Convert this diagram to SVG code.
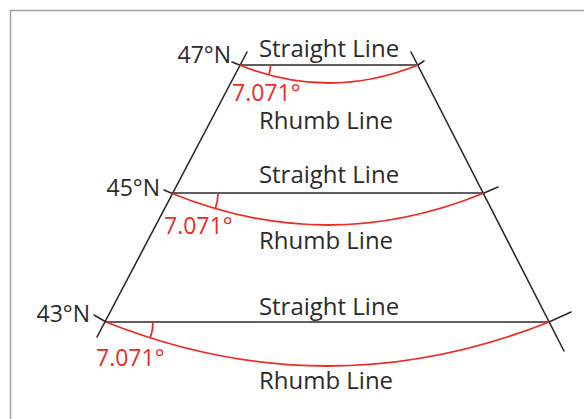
<svg xmlns="http://www.w3.org/2000/svg" width="584" height="419" viewBox="0 0 584 419">
<style>
.k{stroke:#2b2b2b;stroke-width:1.6;fill:none;stroke-linecap:round}
.r{stroke:#ee2b24;stroke-width:1.8;fill:none}
.t{font-family:"Open Sans","Noto Sans",sans-serif;font-size:23px;fill:#2b2b2b}
.rt{font-family:"Open Sans","Noto Sans",sans-serif;font-size:23px;fill:#ee2b24}
.m{text-anchor:middle;font-size:24px}
.e{text-anchor:end}
</style>
<rect width="584" height="419" fill="#fff"/>
<path d="M10.5 419 V10.5 H584" fill="none" stroke="#a0a0a0" stroke-width="1.5"/>
<g id="meridians">
<line class="k" x1="247" y1="52" x2="97" y2="337"/>
<line class="k" x1="411" y1="52" x2="564" y2="351"/>
</g>
<g id="lat47">
<line class="k" x1="232" y1="62" x2="239.5" y2="65"/>
<line class="k" x1="418" y1="65" x2="424" y2="61"/>
<line class="k" x1="239.5" y1="65" x2="418" y2="65"/>
<path class="r" d="M239.5 65 Q328.5 101 418 65"/>
<path class="r" d="M270.5 65 A31 31 0 0 1 268.9 74.9"/>
<text class="t e" x="231" y="63">47°N</text>
<text class="t m" x="329" y="57">Straight Line</text>
<text class="rt" x="232" y="101">7.071°</text>
<text class="t m" x="326" y="129">Rhumb Line</text>
</g>
<g id="lat45">
<line class="k" x1="164" y1="190" x2="171" y2="193"/>
<line class="k" x1="484" y1="193" x2="498" y2="187"/>
<line class="k" x1="171" y1="193" x2="484" y2="193"/>
<path class="r" d="M171 193 Q327.5 257 484 193"/>
<path class="r" d="M218 193 A47 47 0 0 1 215.3 208.6"/>
<text class="t e" x="160" y="196">45°N</text>
<text class="t m" x="329" y="183">Straight Line</text>
<text class="rt" x="164" y="234">7.071°</text>
<text class="t m" x="326" y="249">Rhumb Line</text>
</g>
<g id="lat43">
<line class="k" x1="94" y1="315" x2="106" y2="322"/>
<line class="k" x1="549" y1="322" x2="571" y2="312"/>
<line class="k" x1="106" y1="322" x2="549" y2="322"/>
<path class="r" d="M106 322 Q327.5 410 549 322"/>
<path class="r" d="M153 322 A47 47 0 0 1 150.3 337.8"/>
<text class="t e" x="90" y="322">43°N</text>
<text class="t m" x="329" y="315">Straight Line</text>
<text class="rt" x="96" y="366">7.071°</text>
<text class="t m" x="326" y="389">Rhumb Line</text>
</g>
</svg>
